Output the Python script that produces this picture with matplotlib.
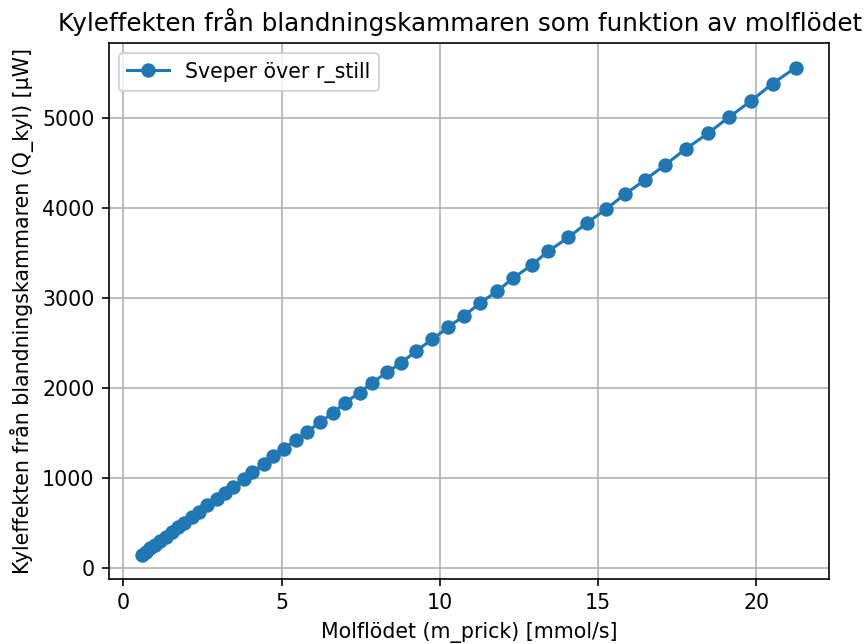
import matplotlib.pyplot as plt

# molflöde [mmol/s]
m_prick = [
    0.58, 0.71, 0.85, 1.00, 1.17, 1.35, 1.54, 1.74, 1.93, 2.16,
    2.40, 2.65, 2.95, 3.21, 3.47, 3.81, 4.08, 4.44, 4.73, 5.07,
    5.45, 5.81, 6.23, 6.63, 7.00, 7.47, 7.87, 8.34, 8.79, 9.26,
    9.77, 10.26, 10.76, 11.26, 11.82, 12.31, 12.91, 13.42, 14.07, 14.66,
    15.26, 15.86, 16.48, 17.11, 17.77, 18.47, 19.13, 19.84, 20.52, 21.26,
]

# kyleffekt [µW]
q_kyl = [
    152, 186, 222, 262, 306, 353, 403, 455, 505, 565,
    628, 701, 767, 834, 908, 989, 1070, 1155, 1247, 1330,
    1421, 1512, 1629, 1723, 1840, 1951, 2062, 2178, 2284, 2417,
    2544, 2677, 2802, 2943, 3080, 3221, 3369, 3520, 3676, 3838,
    3990, 4157, 4312, 4478, 4656, 4830, 5008, 5192, 5385, 5563,
]

DPI = 148


def plot_kyleffekt():

    fig = plt.figure(figsize=(865 / DPI, 644 / DPI), dpi=DPI)

    plt.subplots_adjust(left=0.126, right=0.958, bottom=0.101, top=0.933)

    plt.plot(m_prick, q_kyl, marker="o", label="Sveper över r_still")

    plt.title(
        "Kyleffekten från blandningskammaren som funktion av molflödet",
        x=0.488
    )

    plt.xlabel("Molflödet (m_prick) [mmol/s]")

    plt.ylabel("Kyleffekten från blandningskammaren (Q_kyl) [µW]")

    plt.grid(True)

    plt.legend()

    fig.savefig("out.png", dpi=DPI)

    plt.close()


plot_kyleffekt()
